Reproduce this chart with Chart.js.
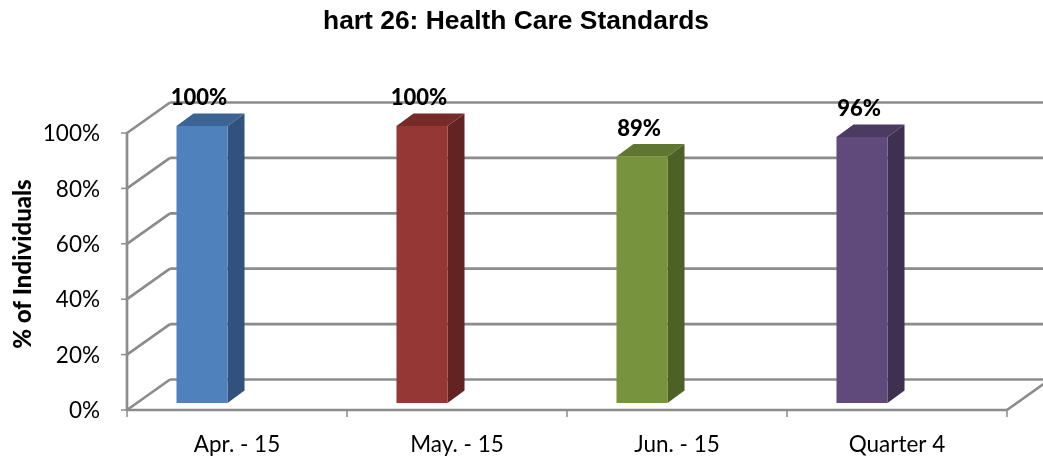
<!DOCTYPE html>
<html>
<head>
<meta charset="utf-8">
<script src="https://cdn.jsdelivr.net/npm/chart.js@4.4.1/dist/chart.umd.min.js"></script>
<style>
  html, body { margin: 0; padding: 0; background: #fff; }
  #wrap { width: 1043px; height: 461px; }
</style>
</head>
<body>
<div id="wrap"><canvas id="chart" width="1043" height="461"></canvas></div>
<script>
  // -----------------------------
  // data
  // -----------------------------
  const chartTitle = "hart 26: Health Care Standards";
  const yTitle = "% of Individuals";
  const categories = ["Apr. - 15", "May. - 15", "Jun. - 15", "Quarter 4"];
  const values = [1.00, 1.00, 0.89, 0.96];
  const valueLabels = ["100%", "100%", "89%", "96%"];
  const yTicks = [0, 0.2, 0.4, 0.6, 0.8, 1.0];
  const yTickLabels = ["0%", "20%", "40%", "60%", "80%", "100%"];

  const frontColors = ["#4f81bd", "#953735", "#77933c", "#604a7b"];
  const sideColors  = ["#30527c", "#622322", "#4d6127", "#3e3051"];
  const topColors   = ["#3b6393", "#772b29", "#5e7630", "#4b3a61"];

  // -----------------------------
  // 3D look (oblique projection)
  // -----------------------------
  const WALL_DX = 43, WALL_DY = -30.5;   // depth of the back wall
  const BAR_DX = 17, BAR_DY = -12.5;     // depth of each bar
  const BAR_SHIFT_X = -35, BAR_SHIFT_Y = -7;
  const GRID = "#8c8c8c";
  const LBL_FONT = "22.5px Lato, 'Open Sans', sans-serif";

  function line(ctx, x1, y1, x2, y2) {
    ctx.beginPath();
    ctx.moveTo(x1, y1);
    ctx.lineTo(x2, y2);
    ctx.stroke();
  }

  function poly(ctx, pts, fill) {
    ctx.beginPath();
    ctx.moveTo(pts[0][0], pts[0][1]);
    for (let i = 1; i < pts.length; i++) ctx.lineTo(pts[i][0], pts[i][1]);
    ctx.closePath();
    ctx.fillStyle = fill;
    ctx.fill();
  }

  const excel3d = {
    id: "excel3d",
    beforeDatasetsDraw(chart) {
      const ctx = chart.ctx;
      const area = chart.chartArea;
      const y = chart.scales.y;
      const x = chart.scales.x;
      ctx.save();
      ctx.strokeStyle = GRID;
      ctx.lineWidth = 2.7;
      ctx.lineCap = "butt";

      // back wall + side wall
      yTicks.forEach(v => {
        const py = y.getPixelForValue(v);
        line(ctx, area.left, py, area.left + WALL_DX, py + WALL_DY);
        line(ctx, area.left + WALL_DX, py + WALL_DY, chart.width + 5, py + WALL_DY);
      });

      // floor front + right edge
      line(ctx, area.left, area.bottom, area.right, area.bottom);
      line(ctx, area.right, area.bottom, area.right + WALL_DX, area.bottom + WALL_DY);

      // value axis
      line(ctx, area.left, area.top, area.left, area.bottom + 1);
      ctx.lineWidth = 1.5;
      yTicks.forEach(v => {
        const py = y.getPixelForValue(v);
        line(ctx, area.left - 6, py, area.left, py);
      });
      // category ticks
      for (let i = 0; i <= categories.length; i++) {
        const px = i < categories.length
          ? x.getPixelForValue(i) - (x.getPixelForValue(1) - x.getPixelForValue(0)) / 2
          : area.right;
        line(ctx, px, area.bottom, px, area.bottom + 7);
      }
      ctx.restore();
    },
    afterDatasetsDraw(chart) {
      const ctx = chart.ctx;
      const y = chart.scales.y;
      const x = chart.scales.x;
      const area = chart.chartArea;
      const meta = chart.getDatasetMeta(0);
      ctx.save();

      // bars
      meta.data.forEach((el, i) => {
        const w = el.width;
        const x0 = el.x + BAR_SHIFT_X - w / 2;
        const x1 = x0 + w;
        const top = el.y + BAR_SHIFT_Y;
        const bot = el.base + BAR_SHIFT_Y;
        poly(ctx, [[x1, top], [x1 + BAR_DX, top + BAR_DY], [x1 + BAR_DX, bot + BAR_DY], [x1, bot]], sideColors[i]);
        poly(ctx, [[x0, top], [x0 + BAR_DX, top + BAR_DY], [x1 + BAR_DX, top + BAR_DY], [x1, top]], topColors[i]);
        poly(ctx, [[x0, top], [x1, top], [x1, bot], [x0, bot]], frontColors[i]);

        // value label
        ctx.fillStyle = "#000";
        ctx.font = "900 22px Lato, 'Open Sans', sans-serif";
        ctx.textAlign = "center";
        ctx.textBaseline = "middle";
        ctx.fillText(valueLabels[i], el.x + BAR_SHIFT_X - 3, top - 28);
      });

      // y tick labels
      ctx.fillStyle = "#000";
      ctx.font = LBL_FONT;
      ctx.textAlign = "right";
      ctx.textBaseline = "middle";
      yTicks.forEach((v, i) => {
        ctx.fillText(yTickLabels[i], area.left - 27, y.getPixelForValue(v) + 1);
      });

      // category labels
      ctx.textAlign = "center";
      ctx.textBaseline = "alphabetic";
      categories.forEach((c, i) => {
        ctx.fillText(c, x.getPixelForValue(i), 452);
      });

      // y axis title
      ctx.save();
      ctx.translate(23, 264);
      ctx.rotate(-Math.PI / 2);
      ctx.font = "900 24px Lato, 'Open Sans', sans-serif";
      ctx.textBaseline = "middle";
      ctx.fillText(yTitle, 0, 0);
      ctx.restore();

      // chart title
      ctx.font = "bold 26px 'Liberation Sans Narrow', 'Liberation Sans', Arial, sans-serif";
      ctx.textAlign = "center";
      ctx.textBaseline = "alphabetic";
      const tw = ctx.measureText(chartTitle).width;
      const sx = 386 / tw;
      ctx.save();
      ctx.translate(516, 29);
      ctx.scale(sx, 1);
      ctx.fillText(chartTitle, 0, 0);
      ctx.restore();

      ctx.restore();
    }
  };

  const ctx = document.getElementById("chart").getContext("2d");
  new Chart(ctx, {
    type: "bar",
    data: {
      labels: categories,
      datasets: [{
        data: values,
        backgroundColor: "rgba(0,0,0,0)",
        borderWidth: 0,
        categoryPercentage: 1,
        barPercentage: 0.232
      }]
    },
    options: {
      responsive: false,
      animation: false,
      layout: { padding: { left: 127, right: 36, top: 133, bottom: 51 } },
      scales: {
        x: { display: false, offset: true },
        y: { display: false, min: 0, max: 1 }
      },
      plugins: {
        legend: { display: false },
        tooltip: { enabled: false },
        title: { display: false }
      }
    },
    plugins: [excel3d]
  });
</script>
</body>
</html>
